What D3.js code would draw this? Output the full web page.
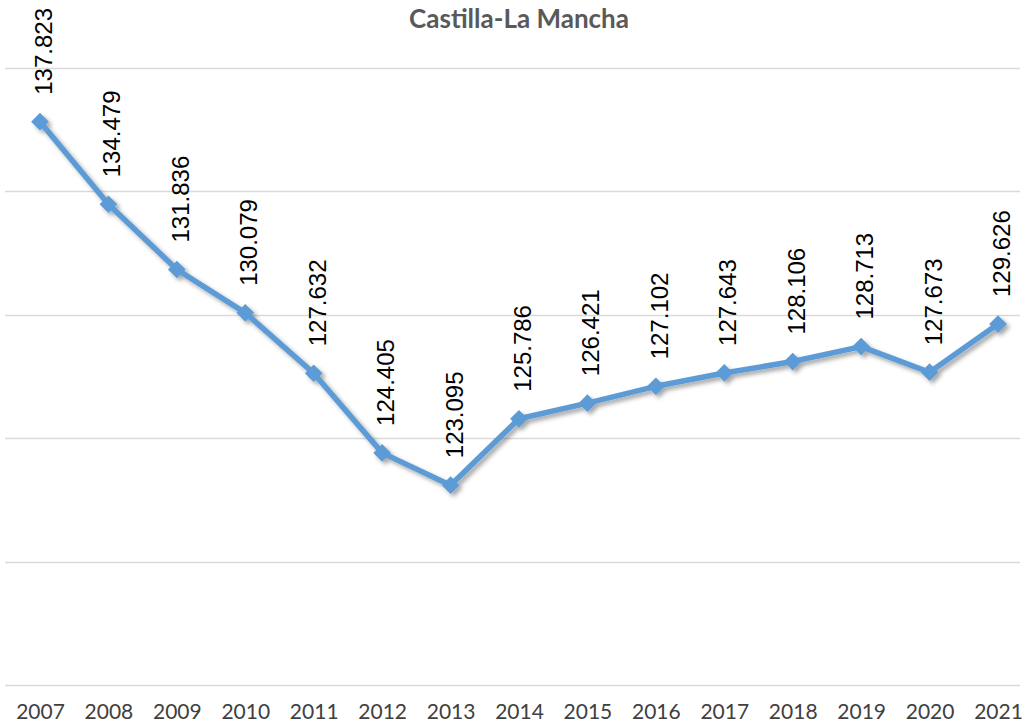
<!DOCTYPE html>
<html>
<head>
<meta charset="utf-8">
<script src="https://cdn.jsdelivr.net/npm/d3@7"></script>
<style>
  body { margin: 0; background: #fff; }
  svg { display: block; }
</style>
</head>
<body>
<svg id="chart" width="1025" height="725"></svg>
<script>
// datos de la serie
const years = ['2007','2008','2009','2010','2011','2012','2013','2014','2015','2016','2017','2018','2019','2020','2021'];
const values = [137.823, 134.479, 131.836, 130.079, 127.632, 124.405, 123.095, 125.786, 126.421, 127.102, 127.643, 128.106, 128.713, 127.673, 129.626];
const yTicks = [115, 120, 125, 130, 135, 140];

const svg = d3.select("svg#chart");
const width = 1025, height = 725;
const margin = {top: 68, right: 5, bottom: 40, left: 5};

// posiciones de las categorias
const x = d3.scalePoint()
    .domain(years)
    .range([40, 998]);

const y = d3.scaleLinear()
    .domain([115, 140])
    .range([height - margin.bottom, margin.top]);

// sombra de la linea
const defs = svg.append("defs");
const filter = defs.append("filter").attr("id", "shadow")
    .attr("x", "-10%").attr("y", "-10%").attr("width", "120%").attr("height", "130%");
filter.append("feDropShadow")
    .attr("dx", 3).attr("dy", 3).attr("stdDeviation", 2)
    .attr("flood-color", "#000").attr("flood-opacity", 0.35);

// titulo
svg.append("text")
    .attr("x", 519)
    .attr("y", 28)
    .attr("text-anchor", "middle")
    .style("font-family", "Lato, 'Open Sans', sans-serif")
    .style("font-size", "26px")
    .style("font-weight", "bold")
    .style("fill", "#595959")
    .text("Castilla-La Mancha");

// lineas de cuadricula
svg.append("g")
  .selectAll("line")
  .data(yTicks)
  .join("line")
    .attr("x1", margin.left)
    .attr("x2", width - margin.right)
    .attr("y1", d => Math.round(y(d)) + 0.5)
    .attr("y2", d => Math.round(y(d)) + 0.5)
    .attr("stroke", "#d9d9d9")
    .attr("stroke-width", 1.5);

// eje x
const xAxis = svg.append("g")
    .attr("transform", `translate(0,${height - margin.bottom})`)
    .call(d3.axisBottom(x).tickSize(0).tickPadding(19));
xAxis.select(".domain").remove();
xAxis.selectAll("text")
    .style("font-family", "Lato, 'Open Sans', sans-serif")
    .style("font-size", "21px")
    .style("fill", "#404040");

// linea + marcadores
const g = svg.append("g").attr("filter", "url(#shadow)");
const line = d3.line()
    .x((d, i) => x(years[i]))
    .y(d => y(d));

g.append("path")
    .datum(values)
    .attr("d", line)
    .attr("fill", "none")
    .attr("stroke", "#5b9bd5")
    .attr("stroke-width", 5.5)
    .attr("stroke-linejoin", "round");

g.selectAll("path.marker")
  .data(values)
  .join("path")
    .attr("class", "marker")
    .attr("d", d3.symbol().type(d3.symbolDiamond2).size(200))
    .attr("transform", (d, i) => `translate(${x(years[i])},${y(d)})`)
    .attr("fill", "#5b9bd5");

// etiquetas de datos
svg.append("g")
  .selectAll("text")
  .data(values)
  .join("text")
    .attr("transform", (d, i) => `translate(${x(years[i]) + 12},${y(d) - 27}) rotate(-90)`)
    .attr("text-anchor", "start")
    .style("font-family", "'Liberation Sans', Arial, sans-serif")
    .style("font-size", "24px")
    .style("fill", "#000")
    .text(d => d.toFixed(3));
</script>
</body>
</html>
